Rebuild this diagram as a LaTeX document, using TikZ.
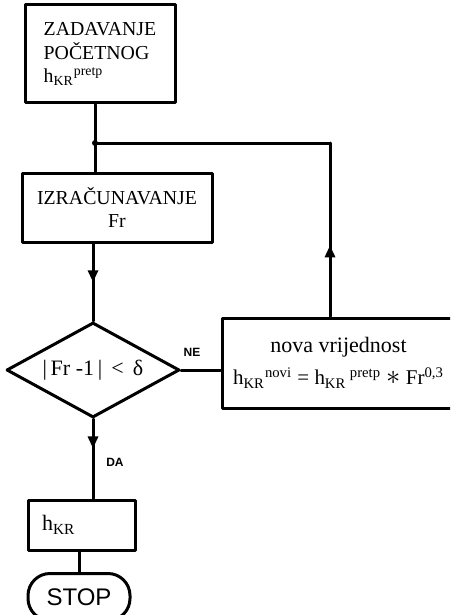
\documentclass[tikz,border=0pt]{standalone}
\usepackage{fontspec}
\setmainfont{Liberation Serif}
\newfontfamily\handfont{Liberation Sans}
\usetikzlibrary{shapes.geometric,decorations.markings,arrows.meta}

\begin{document}
\begin{tikzpicture}[line cap=round, line join=round, x=0.5pt, y=-0.5pt, line width=1.5pt,
        every node/.style={font=\fontsize{9.9}{11.7}\selectfont},
        box/.style={draw, inner sep=0pt},
        big/.style={font=\fontsize{11}{13}\selectfont},
        tag/.style={font=\handfont\bfseries\fontsize{6}{6}\selectfont},
        mid arrow/.style={postaction={decorate}, decoration={markings,
            mark=at position #1 with {\arrow{Triangle[width=5pt,length=6pt]}}}}]
                \useasboundingbox (0,0) rectangle (450,615);
                \clip (0,0) rectangle (450,615);
                \node[box, minimum width=75pt, minimum height=49pt, align=left] (start) at (100,54)
                    {ZADAVANJE\\POČETNOG\\h\textsubscript{KR}\textsuperscript{pretp}};
                \node[box, minimum width=95pt, minimum height=34.5pt, align=center] (izr) at (117,207.5)
                    {IZRAČUNAVANJE\\Fr};
                \node[draw, diamond, aspect=1.82, inner sep=0pt, minimum width=86.5pt, minimum height=47.5pt, big] (dia) at (93,370)
                    {|\,Fr -1\,| \,<\, δ};
                \node[box, minimum width=116.5pt, minimum height=45pt, align=center, font=\fontsize{11}{16}\selectfont] (nova) at (338.5,363)
                    {nova vrijednost\\{\fontsize{10.5}{16}\selectfont h\textsubscript{KR}\textsuperscript{novi} = h\textsubscript{KR}\,\textsuperscript{pretp} \scalebox{1.3}{$*$} Fr\textsuperscript{0,3}}};
                \node[box, minimum width=53.5pt, minimum height=25pt, text width=39.5pt, inner xsep=7pt, align=left, big] (hkr) at (81.5,525)
                    {h\textsubscript{KR}};
                \node[draw, rounded corners=11pt, minimum width=51pt, minimum height=23.5pt, font=\handfont\fontsize{12}{12}\selectfont] (stop) at (79,597)
                    {STOP};
                \coordinate (junc) at (95,143);
                \coordinate (corner) at (330,143);
                \draw (start.south -| junc) -- (junc) -- (izr.north -| junc);
                \draw[mid arrow=0.41] (nova.north -| corner) -- (corner);
                \draw (corner) -- (junc);
                \fill (junc) circle (3);
                \draw[mid arrow=0.5] (izr.south -| dia.north) -- (dia.north);
                \draw (dia.east) -- (dia.east -| nova.west);
                \draw[mid arrow=0.37] (dia.south) -- (dia.south |- hkr.north);
                \draw (hkr.south -| stop.north) -- (stop.north);
                \node[tag] (ne) at (192,352) {NE};
                \node[tag] (da) at (115,462) {DA};
            \end{tikzpicture}
\end{document}
